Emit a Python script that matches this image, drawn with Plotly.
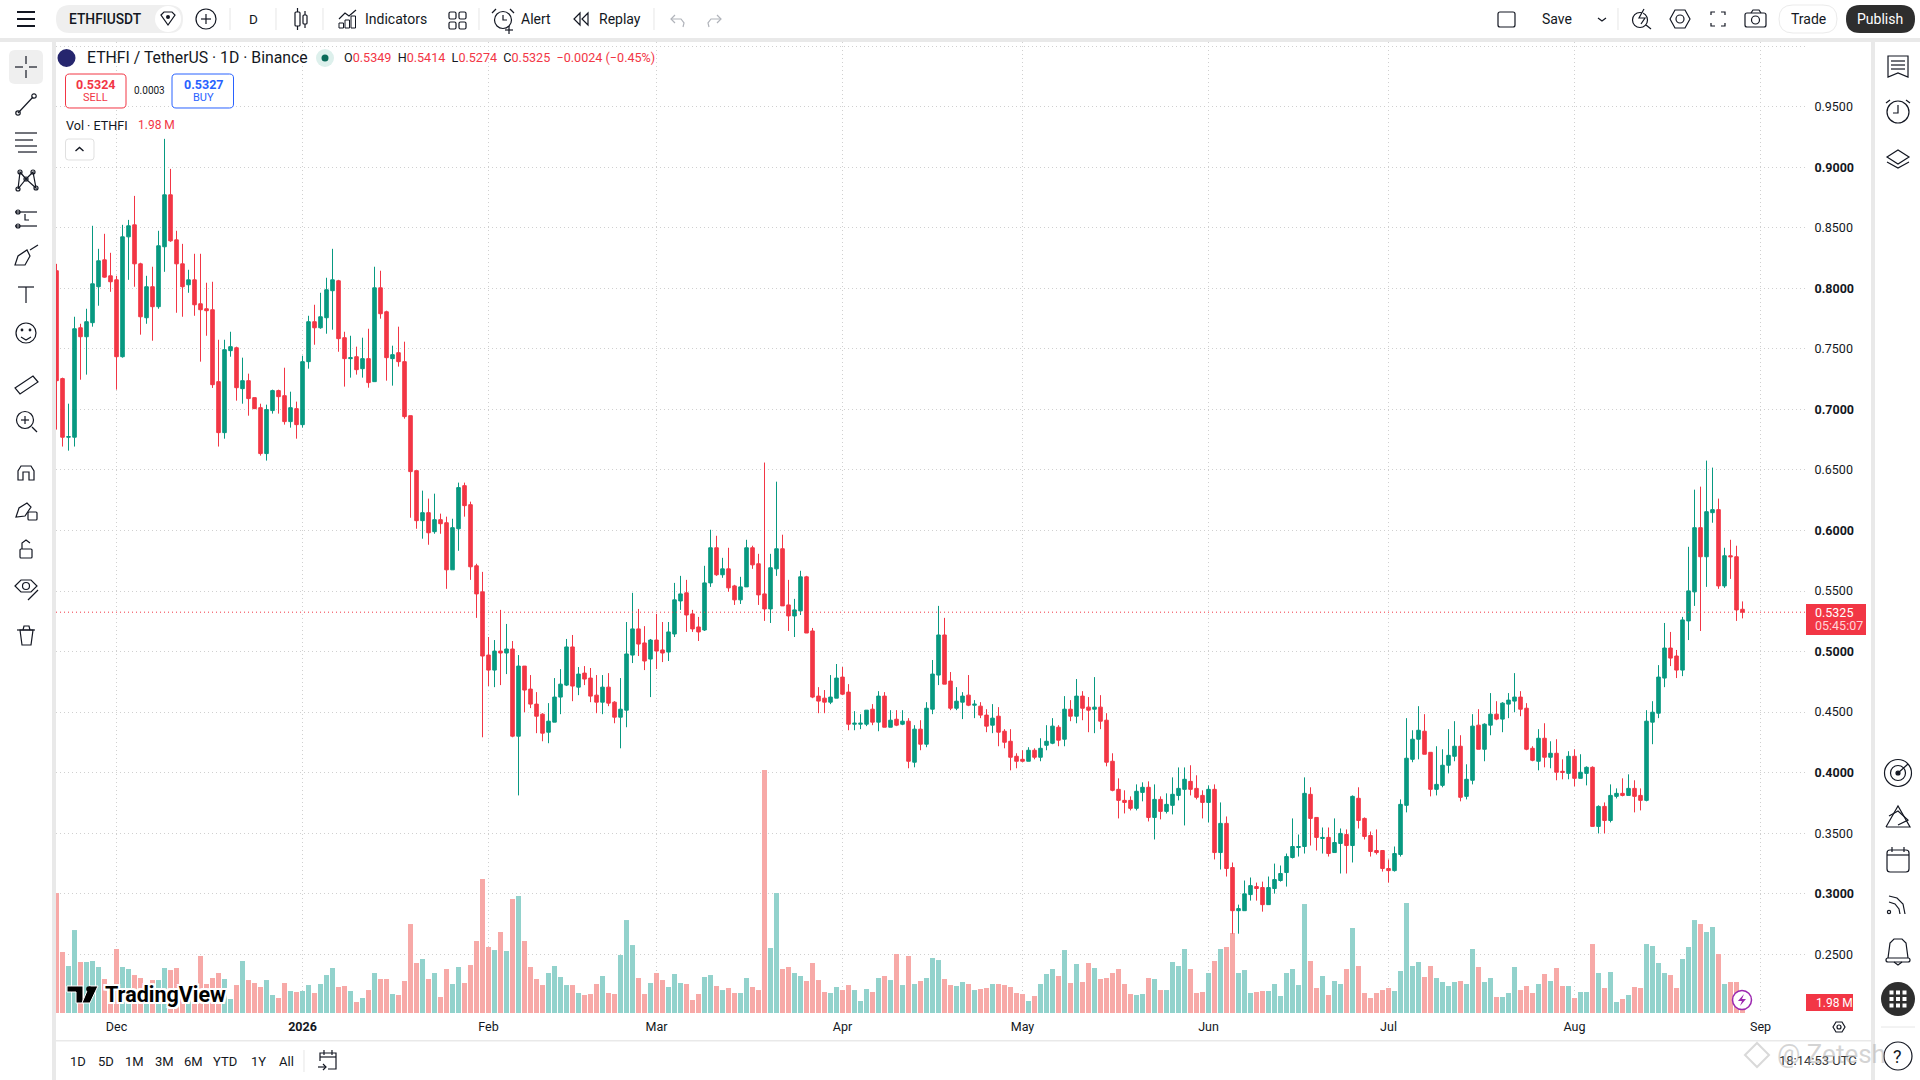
import pandas as pd
import plotly.graph_objects as go

# ETHFI/USDT daily candles
first_day = '2025-11-21'

opens = [
    .8145,.7254,.6770,.6770,.7674,.7600,.7716,.8013,.8235,.8103,
    .8070,.7435,.8425,.8524,.8202,.7757,.8013,.7848,.8343,.8772,
    .8400,.8202,.8029,.8070,.7872,.7831,.7823,.7229,.6808,.7485,
    .7509,.7171,.7237,.7097,.7014,.6635,.6990,.7155,.7113,.6899,
    .7006,.6874,.7394,.7724,.7674,.7757,.7980,.8062,.7592,.7419,
    .7435,.7336,.7419,.7229,.8004,.7806,.7419,.7468,.7394,.6948,
    .6494,.6081,.6147,.5990,.6089,.6064,.5675,.6014,.6370,.6213,
    .5708,.5493,.4971,.4847,.5004,.4988,.5021,.4301,.4880,.4690,
    .4566,.4483,.4334,.4417,.4624,.4723,.5038,.4706,.4822,.4781,
    .4640,.4582,.4706,.4582,.4458,.4516,.4971,.5187,.5071,.4938,
    .5095,.5013,.4996,.5145,.5418,.5485,.5311,.5203,.5178,.5567,
    .5857,.5634,.5683,.5542,.5427,.5534,.5857,.5725,.5476,.5352,
    .5683,.5849,.5385,.5294,.5336,.5617,.5170,.4632,.4615,.4582,
    .4615,.4789,.4665,.4400,.4400,.4400,.4524,.4417,.4632,.4375,
    .4441,.4400,.4425,.4086,.4359,.4235,.4524,.4806,.5137,.4756,
    .4532,.4582,.4640,.4557,.4549,.4475,.4392,.4466,.4342,.4259,
    .4135,.4110,.4094,.4185,.4127,.4226,.4243,.4375,.4276,.4524,
    .4466,.4632,.4541,.4524,.4541,.4433,.4094,.3862,.3771,.3771,
    .3705,.3837,.3879,.3630,.3779,.3680,.3730,.3812,.3862,.3928,
    .3870,.3812,.3754,.3862,.3340,.3581,.3216,.2860,.2860,.2993,
    .3059,.3051,.2910,.3043,.3109,.3175,.3299,.3382,.3390,.3821,
    .3630,.3456,.3465,.3340,.3415,.3489,.3398,.3788,.3622,.3481,
    .3357,.3357,.3208,.3191,.3324,.3730,.4110,.4276,.4342,.4168,
    .3862,.3895,.4061,.4135,.4218,.3804,.3937,.4392,.4193,.4392,
    .4483,.4442,.4566,.4591,.4624,.4532,.4201,.4094,.4284,.4127,
    .4160,.4011,.3994,.4135,.3953,.3994,.4044,.3556,.3721,.3605,
    .3804,.3829,.3812,.3870,.3812,.3771,.4417,.4491,.4781,.5029,
    .4963,.4847,.5253,.5493,.6023,.5783,.6147,.6172,.5542,.5791,.5783,.5349,
]

closes = [
    .7237,.6770,.6775,.7666,.7600,.7724,.8037,.8227,.8092,.8054,
    .7435,.8425,.8516,.8202,.7765,.8013,.7848,.8351,.8772,.8392,
    .8202,.8013,.8070,.7864,.7823,.7815,.7204,.6808,.7493,.7518,
    .7179,.7237,.7089,.7006,.6635,.6998,.7155,.7105,.6899,.7014,
    .6874,.7394,.7724,.7674,.7765,.7988,.8070,.7584,.7419,.7427,
    .7328,.7419,.7221,.8004,.7790,.7427,.7452,.7394,.6940,.6486,
    .6081,.6147,.5981,.6089,.6056,.5675,.6023,.6354,.6205,.5700,
    .5476,.4963,.4847,.5004,.4988,.5021,.4301,.4880,.4682,.4566,
    .4466,.4326,.4425,.4624,.4731,.5038,.4715,.4814,.4773,.4632,
    .4582,.4706,.4574,.4458,.4524,.4980,.5187,.5062,.4922,.5095,
    .5004,.4988,.5162,.5427,.5476,.5302,.5187,.5162,.5567,.5857,
    .5634,.5683,.5526,.5427,.5534,.5857,.5716,.5468,.5352,.5692,
    .5849,.5377,.5294,.5344,.5617,.5153,.4624,.4591,.4582,.4624,
    .4781,.4648,.4400,.4408,.4408,.4516,.4417,.4632,.4375,.4433,
    .4392,.4425,.4094,.4359,.4235,.4532,.4814,.5137,.4731,.4532,
    .4590,.4632,.4557,.4565,.4475,.4384,.4450,.4334,.4251,.4127,
    .4094,.4094,.4185,.4127,.4201,.4259,.4384,.4268,.4524,.4466,
    .4632,.4532,.4516,.4541,.4425,.4086,.3854,.3771,.3754,.3705,
    .3846,.3879,.3630,.3779,.3680,.3738,.3821,.3870,.3945,.3862,
    .3796,.3754,.3862,.3340,.3581,.3208,.2860,.2877,.2999,.3067,
    .3043,.2910,.3051,.3117,.3167,.3307,.3390,.3390,.3829,.3622,
    .3465,.3465,.3332,.3423,.3498,.3398,.3804,.3605,.3473,.3349,
    .3340,.3208,.3191,.3332,.3738,.4119,.4276,.4350,.4152,.3862,
    .3903,.4061,.4143,.4218,.3796,.3945,.4384,.4193,.4400,.4483,
    .4442,.4574,.4599,.4624,.4524,.4193,.4102,.4284,.4127,.4160,
    .4003,.4003,.4135,.3953,.4003,.4044,.3556,.3721,.3605,.3812,
    .3829,.3812,.3870,.3804,.3771,.4425,.4499,.4789,.5029,.4946,
    .4847,.5261,.5501,.6023,.5783,.6155,.6172,.5542,.5791,.5783,.5344,.5325,
]

highs = [
    .8202,.7262,.7047,.7765,.7707,.7831,.8516,.8326,.8450,.8293,
    .8103,.8524,.8565,.8763,.8211,.8103,.8178,.8475,.9234,.8986,
    .8475,.8367,.8153,.8285,.8285,.8046,.8054,.7575,.7575,.7641,
    .7518,.7427,.7295,.7097,.7047,.7039,.7163,.7163,.7344,.7146,
    .7064,.7443,.7773,.7864,.7963,.8087,.8326,.8070,.7641,.7608,
    .7518,.7592,.7666,.8178,.8145,.7815,.7526,.7683,.7559,.6948,
    .6494,.6329,.6263,.6304,.6139,.6114,.6097,.6395,.6395,.6238,
    .5725,.5658,.5120,.5095,.5344,.5228,.5087,.4971,.4880,.4806,
    .4665,.4491,.4574,.4781,.4855,.5104,.5137,.4872,.4880,.4864,
    .4806,.4806,.4822,.4590,.4781,.5244,.5485,.5352,.5210,.5104,
    .5311,.5244,.5244,.5567,.5625,.5592,.5344,.5286,.5708,.6006,
    .5956,.5774,.5857,.5551,.5617,.5923,.5874,.5807,.6561,.5807,
    .6403,.5965,.5592,.5435,.5667,.5625,.5195,.4706,.4682,.4806,
    .4897,.4872,.4731,.4508,.4483,.4516,.4566,.4673,.4665,.4516,
    .4516,.4516,.4450,.4392,.4433,.4582,.4930,.5377,.5278,.4831,
    .4706,.4665,.4806,.4599,.4582,.4524,.4566,.4541,.4359,.4359,
    .4160,.4185,.4210,.4201,.4284,.4392,.4450,.4392,.4632,.4599,
    .4773,.4673,.4624,.4789,.4640,.4491,.4160,.3953,.3854,.3804,
    .3903,.3920,.3928,.3903,.3804,.3829,.3961,.4043,.4043,.4061,
    .3978,.3854,.3895,.3903,.3754,.3638,.3258,.2910,.3109,.3134,
    .3092,.3100,.3142,.3249,.3233,.3332,.3622,.3489,.3961,.3879,
    .3630,.3547,.3547,.3622,.3539,.3531,.3812,.3879,.3630,.3514,
    .3531,.3357,.3283,.3390,.3779,.4450,.4350,.4549,.4483,.4168,
    .4218,.4193,.4359,.4425,.4309,.4069,.4483,.4524,.4408,.4657,
    .4590,.4582,.4657,.4822,.4673,.4574,.4218,.4359,.4408,.4259,
    .4276,.4110,.4177,.4193,.4152,.4052,.4052,.3730,.3754,.3903,
    .3870,.3953,.3986,.3937,.3870,.4516,.4590,.4888,.5236,.5162,
    .5013,.5286,.5865,.6337,.6362,.6577,.6519,.6263,.5857,.5923,.5874,.5414,
]

lows = [
    .6833,.6693,.6659,.6693,.7245,.7287,.7683,.7856,.8087,.7971,
    .7163,.7427,.8070,.8013,.7617,.7707,.7567,.7831,.8136,.8384,
    .7798,.7765,.7963,.7773,.7394,.7608,.7177,.6693,.6758,.7435,
    .7072,.7047,.6948,.7003,.6618,.6577,.6965,.6965,.6874,.6849,
    .6758,.6849,.7336,.7534,.7666,.7625,.7658,.7476,.7188,.7262,
    .7287,.7262,.7179,.7229,.7749,.7237,.7196,.7353,.6923,.6105,
    .6014,.5932,.5882,.5973,.5973,.5518,.5675,.5832,.6114,.5592,
    .5278,.4292,.4715,.4706,.4723,.4814,.4292,.3812,.4499,.4533,
    .4326,.4259,.4243,.4417,.4483,.4715,.4590,.4640,.4723,.4582,
    .4491,.4483,.4549,.4408,.4201,.4375,.4905,.4963,.4847,.4624,
    .4855,.4913,.4922,.5120,.5344,.5162,.5162,.5087,.5170,.5534,
    .5625,.5609,.5493,.5385,.5393,.5534,.5683,.5385,.5253,.5236,
    .5625,.5377,.5170,.5120,.5302,.5153,.4615,.4491,.4491,.4566,
    .4615,.4640,.4350,.4350,.4359,.4384,.4392,.4342,.4375,.4375,
    .4384,.4392,.4036,.4044,.4185,.4210,.4483,.4723,.4731,.4516,
    .4516,.4442,.4549,.4450,.4450,.4334,.4326,.4218,.4201,.4019,
    .4036,.4086,.4094,.4110,.4094,.4185,.4235,.4218,.4218,.4425,
    .4408,.4433,.4334,.4326,.4359,.4052,.3846,.3622,.3663,.3688,
    .3688,.3763,.3597,.3448,.3614,.3663,.3655,.3771,.3564,.3812,
    .3779,.3622,.3589,.3283,.3200,.3142,.2670,.2670,.2860,.2943,
    .2943,.2852,.2910,.3001,.3100,.3059,.3291,.3307,.3332,.3398,
    .3357,.3332,.3307,.3340,.3167,.3167,.3258,.3539,.3448,.3307,
    .3324,.3183,.3092,.3183,.3307,.3672,.4086,.4110,.4152,.3804,
    .3812,.3879,.3994,.4094,.3763,.3779,.3903,.4193,.4094,.4309,
    .4433,.4334,.4450,.4499,.4466,.4185,.4094,.4019,.4044,.4036,
    .3937,.3945,.3945,.3887,.3953,.3895,.3556,.3498,.3498,.3589,
    .3787,.3804,.3812,.3672,.3688,.3763,.4235,.4450,.4706,.4880,
    .4781,.4797,.5095,.5377,.5170,.5534,.6064,.5518,.5526,.5600,.5253,.5274,
]

# volume in millions of ETHFI
volumes = [
    23.76,12.08,9.31,16.43,10.10,10.10,10.30,9.11,6.73,4.75,
    12.67,9.11,8.71,7.52,6.93,5.74,6.53,6.53,8.91,8.51,
    8.91,5.35,2.57,2.38,11.29,5.74,6.93,7.92,6.73,2.77,
    5.54,10.30,6.53,5.94,5.15,6.53,3.56,2.97,5.94,4.36,
    4.16,4.36,5.54,3.96,5.74,7.52,8.91,5.15,5.35,4.36,
    2.18,2.97,4.55,7.92,6.73,6.73,3.76,3.56,6.34,17.62,
    9.90,10.69,6.73,7.92,3.17,8.71,5.74,9.11,5.94,9.50,
    14.26,26.53,13.07,12.47,16.04,12.28,22.57,23.17,14.26,9.11,
    6.73,5.54,7.92,9.31,7.13,5.54,5.54,3.96,3.56,3.76,
    5.74,7.33,3.96,3.76,11.48,18.41,13.46,6.93,3.76,5.94,
    7.92,6.53,5.15,7.72,5.94,5.74,2.57,3.76,7.13,7.52,
    5.35,4.55,4.95,3.96,3.96,6.93,5.15,4.55,48.11,12.87,
    23.76,8.71,9.11,7.92,7.33,6.34,9.90,6.53,4.16,3.96,
    5.15,4.55,5.54,4.55,2.38,4.75,4.16,6.93,7.33,6.53,
    11.68,5.54,11.29,5.74,6.34,6.93,10.89,10.49,6.73,5.54,
    5.35,6.14,5.74,4.55,4.75,4.95,5.74,5.74,5.54,5.15,
    3.96,3.76,2.38,3.37,5.74,7.72,8.71,7.33,12.47,5.94,
    9.70,6.14,9.90,8.91,6.73,6.93,7.92,8.71,5.74,3.76,
    3.56,3.76,6.93,6.73,4.55,4.55,10.10,9.31,12.67,8.71,
    3.96,4.16,7.92,10.30,12.67,13.07,15.84,7.92,8.51,3.96,
    4.16,4.36,4.36,5.74,3.37,7.92,8.71,5.54,21.58,10.30,
    4.95,7.33,3.56,6.34,5.74,8.71,16.83,9.31,3.96,2.97,
    3.96,4.55,4.95,4.36,8.32,21.78,9.31,10.10,7.13,9.31,
    6.93,6.14,5.35,6.14,6.34,5.74,12.67,9.11,6.14,6.93,
    3.17,3.17,3.96,9.11,4.55,5.35,3.96,5.74,7.72,6.34,
    8.91,5.35,5.35,2.97,4.16,4.16,13.66,7.92,4.95,8.12,
    2.18,2.77,3.56,5.15,4.95,13.66,13.27,9.90,7.92,7.52,
    4.95,10.69,13.07,18.41,17.62,16.04,17.03,11.68,5.74,6.14,6.14,1.98,
]

month_ticks = ['2025-12-01', '2026-01-01', '2026-02-01', '2026-03-01', '2026-04-01',
               '2026-05-01', '2026-06-01', '2026-07-01', '2026-08-01', '2026-09-01']
month_labels = ['Dec', '<b>2026</b>', 'Feb', 'Mar', 'Apr', 'May', 'Jun', 'Jul', 'Aug', 'Sep']
price_ticks = [0.25, 0.30, 0.35, 0.40, 0.45, 0.50, 0.55, 0.60, 0.65, 0.70, 0.75,
               0.80, 0.85, 0.90, 0.95, 1.00]
price_labels = ['0.2500', '<b>0.3000</b>', '0.3500', '<b>0.4000</b>', '0.4500', '<b>0.5000</b>',
                '0.5500', '<b>0.6000</b>', '0.6500', '<b>0.7000</b>', '0.7500', '<b>0.8000</b>',
                '0.8500', '<b>0.9000</b>', '0.9500', '']
range_buttons = ['1D', '5D', '1M', '3M', '6M', 'YTD', '1Y', 'All']
last_price = 0.5325

UP = '#089981'
DOWN = '#F23645'
UP_VOL = '#92D2CC'
DOWN_VOL = '#F7A9A7'
INK = '#131722'
FONT = 'Roboto'

# page geometry, plot frame in browser pixels
W, H = 1920, 1080
L, R, T, B = 56, 1806, 42, 1013

dates = pd.date_range(first_day, periods=len(opens), freq='D')
vol_colors = [UP_VOL if c >= o else DOWN_VOL for o, c in zip(opens, closes)]


def px(x):
    return (x - L) / (R - L)


def py(y):
    return (B - y) / (B - T)


shapes = []
notes = []


def rect(x0, y0, x1, y1, fill=None, line=None, lw=1):
    shapes.append(dict(type='rect', xref='paper', yref='paper', x0=px(x0), x1=px(x1), y0=py(y0), y1=py(y1),
                       fillcolor=fill or 'rgba(0,0,0,0)', line=dict(color=line or 'rgba(0,0,0,0)', width=lw if line else 0)))


def circle(cx, cy, r, fill=None, line=INK, lw=1.2):
    shapes.append(dict(type='circle', xref='paper', yref='paper', x0=px(cx - r), x1=px(cx + r), y0=py(cy - r), y1=py(cy + r),
                       fillcolor=fill or 'rgba(0,0,0,0)', line=dict(color=line or 'rgba(0,0,0,0)', width=lw if line else 0)))


def poly(points, close=False, fill=None, line=INK, lw=1.2):
    d = 'M' + ' L'.join(f'{px(x):.5f},{py(y):.5f}' for x, y in points) + (' Z' if close else '')
    shapes.append(dict(type='path', xref='paper', yref='paper', path=d, fillcolor=fill or 'rgba(0,0,0,0)',
                       line=dict(color=line or 'rgba(0,0,0,0)', width=lw if line else 0)))


def round_rect(x0, y0, x1, y1, r, fill=None, line=None, lw=1):
    def p(x, y):
        return f'{px(x):.5f},{py(y):.5f}'
    d = (f'M{p(x0 + r, y0)} L{p(x1 - r, y0)} Q{p(x1, y0)} {p(x1, y0 + r)} L{p(x1, y1 - r)} Q{p(x1, y1)} {p(x1 - r, y1)} '
         f'L{p(x0 + r, y1)} Q{p(x0, y1)} {p(x0, y1 - r)} L{p(x0, y0 + r)} Q{p(x0, y0)} {p(x0 + r, y0)} Z')
    shapes.append(dict(type='path', xref='paper', yref='paper', path=d, fillcolor=fill or 'rgba(0,0,0,0)',
                       line=dict(color=line or 'rgba(0,0,0,0)', width=lw if line else 0)))


def text(x, y, s, size=13, color=INK, anchor='left', **font):
    notes.append(dict(x=px(x), y=py(y), xref='paper', yref='paper', text=s, showarrow=False, xanchor=anchor,
                      yanchor='middle', borderpad=0, font=dict(family=FONT, size=size, color=color, **font)))


# grey frame around the panes
rect(0, 38, W, 42, fill='#E9E9E9')
rect(52, 42, 56, H, fill='#E9E9E9')
rect(1871, 42, 1875, H, fill='#E9E9E9')
rect(56, 1040, 1871, 1041.5, fill='#E9E9E9')

# top toolbar
for y in (12, 19, 26):
    poly([(17, y), (35, y)], lw=2)
round_rect(56, 5, 183, 33, 14, fill='#EFEFEF')
text(68, 19, 'ETHFIUSDT', size=13.8, weight=500)
circle(168, 19, 13, fill='#FFFFFF', line=None)
poly([(161, 15), (164, 12), (172, 12), (175, 15), (168, 25)], close=True)
circle(168, 17, 2, fill=INK, line=None)
circle(206, 19, 10)
poly([(201, 19), (211, 19)])
poly([(206, 14), (206, 24)])
for x in (230, 276, 323, 479, 654, 1618):
    poly([(x, 8), (x, 30)], line='#E6E6E6', lw=1)
text(253, 19, 'D', size=13.5, anchor='center')
round_rect(295, 12, 300, 26, 1, line=INK, lw=1.2)
poly([(297.5, 8), (297.5, 12)])
poly([(297.5, 26), (297.5, 30)])
round_rect(303, 15, 307, 24, 1, line=INK, lw=1.2)
poly([(305, 11), (305, 15)])
poly([(305, 24), (305, 28)])
text(364, 19, 'Indicators', size=14)
poly([(339, 19), (345, 13), (349, 16), (356, 10)])
for x, top in ((339, 23), (345, 20), (351, 16)):
    rect(x, top, x + 4.5, 28, line=INK)
for x in (449, 459):
    for y in (12, 22):
        round_rect(x, y, x + 7, y + 7, 1.5, line=INK, lw=1.2)
circle(503, 20, 8.5)
poly([(503, 15), (503, 20), (507, 20)])
poly([(496, 9), (492, 13)])
poly([(510, 9), (514, 13)])
poly([(505, 30), (513, 30)])
poly([(509, 26), (509, 34)])
text(520, 19, 'Alert', size=14)
poly([(580, 13), (574, 19), (580, 25)], close=True)
poly([(588, 13), (582, 19), (588, 25)], close=True)
text(598, 19, 'Replay', size=14)
poly([(671, 19), (681, 19), (684, 23), (683, 27)], line='#B0B3BA')
poly([(675, 15), (671, 19), (675, 23)], line='#B0B3BA')
poly([(721, 19), (711, 19), (708, 23), (709, 27)], line='#B0B3BA')
poly([(717, 15), (721, 19), (717, 23)], line='#B0B3BA')

round_rect(1498, 12, 1515, 27, 2, line=INK, lw=1.2)
text(1557, 19, 'Save', size=14, anchor='center')
poly([(1598, 18), (1602, 21), (1606, 18)])
circle(1640, 20, 7.5)
poly([(1646, 25), (1651, 29)])
poly([(1644, 9), (1639, 18), (1645, 18), (1641, 24)], fill='#FFFFFF')
poly([(1670, 19), (1675, 10), (1685, 10), (1690, 19), (1685, 28), (1675, 28)], close=True)
circle(1680, 19, 4)
for sx, sy in ((-1, -1), (1, -1), (-1, 1), (1, 1)):
    poly([(1718 + 7 * sx, 19 + 4 * sy), (1718 + 7 * sx, 19 + 7 * sy), (1718 + 3 * sx, 19 + 7 * sy)])
round_rect(1745, 13, 1766, 27, 2, line=INK, lw=1.2)
poly([(1751, 13), (1753, 10), (1759, 10), (1761, 13)])
circle(1755.5, 20, 4)
round_rect(1779, 5, 1837, 33, 14, line='#EBEBEB', lw=1)
text(1808, 19, 'Trade', size=14, anchor='center')
round_rect(1846, 5, 1915, 33, 14, fill='#2E2E2E')
text(1880.5, 19, 'Publish', size=14, color='#FFFFFF', anchor='center')

# left drawing tools
round_rect(9, 50, 43, 84, 6, fill='#EFEFEF')
poly([(26, 56), (26, 64)])
poly([(26, 70), (26, 78)])
poly([(15, 67), (23, 67)])
poly([(29, 67), (37, 67)])
poly([(18, 113), (33, 97)])
circle(18, 113, 2.2)
circle(34, 96, 2.2)
for y, x0, x1 in ((133, 15, 37), (140, 15, 33), (146, 15, 37), (152, 18, 37)):
    poly([(x0, y), (x1, y)])
poly([(18, 189), (20, 172), (26, 179), (33, 172), (36, 188), (26, 179), (18, 189)])
circle(20, 172, 2)
circle(33, 172, 2)
circle(18, 189, 2)
circle(36, 188, 2)
circle(26, 179, 2)
poly([(15, 212), (37, 212)])
poly([(15, 226), (37, 226)])
poly([(25, 214), (25, 220), (29, 220)])
circle(18, 212, 2)
circle(18, 226, 2)
poly([(15, 265), (18, 256), (27, 250), (30, 256), (25, 265)], close=True)
poly([(30, 250), (38, 245)])
poly([(18, 287), (34, 287)])
poly([(26, 287), (26, 303)])
circle(26, 333, 10)
circle(22, 330, 0.8, fill=INK)
circle(30, 330, 0.8, fill=INK)
poly([(21, 337), (26, 340), (31, 337)])
poly([(15, 388), (33, 376), (38, 382), (20, 394)], close=True)
circle(25, 420, 8.5)
poly([(32, 427), (37, 432)])
poly([(21, 420), (29, 420)])
poly([(25, 416), (25, 424)])
poly([(18, 480), (18, 471), (21, 466), (31, 466), (34, 471), (34, 480), (29, 480), (29, 472), (23, 472), (23, 480)], close=True)
poly([(16, 517), (19, 508), (27, 503), (31, 507), (25, 516)], close=True)
round_rect(28, 512, 37, 520, 1, line=INK, lw=1.2)
round_rect(20, 549, 32, 558, 1, line=INK, lw=1.2)
poly([(22, 549), (22, 543), (26, 540), (30, 543)])
poly([(15, 586), (21, 580), (31, 580), (37, 586), (31, 592), (21, 592)], close=True)
circle(26, 586, 3.5)
poly([(28, 600), (38, 590)])
poly([(17, 630), (35, 630)])
poly([(20, 630), (22, 645), (31, 645), (33, 630)], close=True)
poly([(23, 630), (24, 626), (29, 626), (30, 630)])

# right sidebar
poly([(1888, 56), (1908, 56), (1908, 77), (1898, 73), (1888, 77)], close=True)
for y in (61, 65, 69):
    poly([(1891, y), (1905, y)])
circle(1898, 112, 11)
poly([(1898, 105), (1898, 113), (1893, 113)])
poly([(1886, 103), (1890, 100)])
poly([(1910, 103), (1906, 100)])
poly([(1887, 157), (1898, 150), (1909, 157), (1898, 164)], close=True)
poly([(1887, 162), (1898, 168), (1909, 162)])
circle(1898, 773, 13.5)
circle(1898, 773, 7.5)
circle(1898, 773, 2, fill=INK)
poly([(1898, 773), (1908, 764)])
poly([(1886, 827), (1898, 806), (1910, 827), (1886, 827)])
poly([(1889, 816), (1898, 811), (1908, 820), (1898, 825)])
round_rect(1887, 850, 1909, 872, 3, line=INK, lw=1.2)
poly([(1887, 855), (1909, 855)])
poly([(1892, 847), (1892, 852)])
poly([(1904, 847), (1904, 852)])
poly([(1889, 896), (1897, 898), (1903, 904), (1905, 914)])
poly([(1889, 902), (1895, 904), (1899, 909), (1900, 914)])
circle(1889, 912, 1.6)
poly([(1888, 958), (1890, 943), (1894, 939), (1902, 939), (1906, 943), (1908, 958)])
round_rect(1886, 958, 1910, 962, 2, line=INK, lw=1.2)
poly([(1894, 962), (1898, 965), (1902, 962)])
circle(1898, 999, 17, fill='#2E2E2E', line=None)
for dx in (-6.5, 0, 6.5):
    for dy in (-6.5, 0, 6.5):
        rect(1898 + dx - 2, 999 + dy - 2, 1898 + dx + 2, 999 + dy + 2, fill='#FFFFFF')
poly([(1881, 1027), (1915, 1027)], line='#E6E6E6', lw=1)
circle(1898, 1056, 14)
text(1898, 1056, '?', size=18, anchor='center')

# chart legend
circle(66.5, 58, 9, fill='#26266E', line=None)
text(86, 58, 'ETHFI / TetherUS · 1D · Binance', size=15.8)
circle(325, 58, 9, fill='#DDF0EC', line=None)
circle(325, 58, 3.5, fill='#0B6B5A', line=None)
red = f'<span style="color:{DOWN}">'
text(343, 58, f'O{red}0.5349</span>  H{red}0.5414</span>  L{red}0.5274</span>  C{red}0.5325</span>  {red}−0.0024 (−0.45%)</span>', size=12.6)
round_rect(65.5, 74, 126, 108, 4, fill='#FFFFFF', line=DOWN)
text(95.7, 84, '<b>0.5324</b>', size=12.5, color=DOWN, anchor='center')
text(95.7, 98, 'SELL', size=11, color=DOWN, anchor='center')
text(149, 90, '0.0003', size=10, anchor='center')
round_rect(172, 74, 233.5, 108, 4, fill='#FFFFFF', line='#2962FF')
text(203, 84, '<b>0.5327</b>', size=12.5, color='#2962FF', anchor='center')
text(203, 98, 'BUY', size=11, color='#2962FF', anchor='center')
text(65, 125, 'Vol · ETHFI', size=12.6)
text(137, 125, '1.98 M', size=12, color=DOWN)
round_rect(65.5, 139, 94, 160, 3, fill='#FFFFFF', line='#E0E0E0')
poly([(75.5, 151), (79.5, 147.5), (83.5, 151)], lw=1.4)

# price and volume tags on the right
rect(1806, 604, 1866, 635, fill=DOWN)
text(1814, 612, f'{last_price:.4f}', size=12.5, color='#FFFFFF')
text(1814, 626, '05:45:07', size=12.5, color='#FFD5D8')
rect(1806, 994, 1853, 1011, fill=DOWN)
text(1815, 1003, '1.98 M', size=12, color='#FFFFFF')
poly([(1833, 1027), (1836, 1022), (1842, 1022), (1845, 1027), (1842, 1032), (1836, 1032)], close=True)
circle(1839, 1027, 2)

# lightning badge at the last bar
circle(1742, 1000, 9.5, fill='#FFFFFF', line='#9C27B0', lw=1.5)
poly([(1744, 994), (1738, 1001), (1742, 1001), (1740, 1006), (1746, 999), (1742, 999)], close=True, fill='#9C27B0', line=None)

# TradingView logo
poly([(67, 986), (83, 986), (83, 1003), (76, 1003), (76, 992), (67, 992)], close=True, fill='#000000', line='#FFFFFF', lw=1)
poly([(89, 986), (98, 986), (90, 1003), (82, 1003)], close=True, fill='#000000', line='#FFFFFF', lw=1)
circle(89, 989, 2.8, fill='#000000', line=None)
halo = ', '.join(f'{a}px {b}px 0 #fff' for a in (-2, 0, 2) for b in (-2, 0, 2))
text(104, 994, 'TradingView', size=21.5, color='#000000', weight=700, shadow=halo)

# bottom bar
for x, label in zip((78, 106, 134, 164, 193, 225, 258, 286), range_buttons):
    text(x, 1061, label, size=13, anchor='center')
poly([(304, 1050), (304, 1072)], line='#E6E6E6', lw=1)
poly([(320, 1061), (320, 1053), (336, 1053), (336, 1069), (328, 1069)])
poly([(320, 1057), (336, 1057)])
poly([(324, 1050), (324, 1055)])
poly([(332, 1050), (332, 1055)])
poly([(318, 1067), (326, 1067)])
poly([(323, 1064), (326, 1067), (323, 1070)])
text(1778, 1060, '18:14:53 UTC', size=13, color='#333333')

# faint watermark over the corner
poly([(1745, 1055), (1757, 1043), (1769, 1055), (1757, 1067)], close=True, line='rgba(170,170,170,0.45)', lw=2)
text(1776, 1054, '@ Zetesh', size=26, color='rgba(170,170,170,0.5)')

fig = go.Figure()

# volume goes on the bottom axis so that candles draw over it
fig.add_trace(go.Bar(
    x=dates,
    y=volumes,
    marker=dict(color=vol_colors, line=dict(width=0)),
    width=72000000,
    yaxis='y',
    hoverinfo='skip',
))

fig.add_trace(go.Candlestick(
    x=dates,
    open=opens,
    high=highs,
    low=lows,
    close=closes,
    yaxis='y2',
    whiskerwidth=0,
    increasing=dict(line=dict(color=UP, width=1), fillcolor=UP),
    decreasing=dict(line=dict(color=DOWN, width=1), fillcolor=DOWN),
))

# last price line
shapes.append(dict(type='line', xref='paper', yref='y2', x0=0, x1=1, y0=last_price, y1=last_price,
                   line=dict(color=DOWN, width=1, dash='1px,3px')))

day_ms = 86400000
dec1 = pd.Timestamp('2025-12-01')
x_left = dec1 + pd.Timedelta(milliseconds=day_ms * (L - 116.5) / 6)
x_right = dec1 + pd.Timedelta(milliseconds=day_ms * (R - 116.5) / 6)

fig.update_layout(
    width=W,
    height=H,
    autosize=False,
    margin=dict(l=L, r=W - R, t=T, b=H - B, pad=0),
    paper_bgcolor='#FFFFFF',
    plot_bgcolor='#FFFFFF',
    showlegend=False,
    boxgap=0.15,
    font=dict(family=FONT, size=12, color=INK),
    xaxis=dict(
        type='date',
        range=[x_left, x_right],
        rangeslider=dict(visible=False),
        tickvals=month_ticks,
        ticktext=month_labels,
        tickangle=0,
        tickfont=dict(family=FONT, size=12.5, color=INK),
        showgrid=True,
        gridcolor='#D0D0D0',
        griddash='1px,3px',
        gridwidth=1,
        showline=False,
        zeroline=False,
        ticks='outside',
        ticklen=2,
        tickcolor='rgba(0,0,0,0)',
    ),
    yaxis=dict(
        range=[0, 192.3],
        visible=False,
        showgrid=False,
        zeroline=False,
    ),
    yaxis2=dict(
        overlaying='y',
        side='right',
        range=[0.2015, 1.0034],
        tickvals=price_ticks,
        ticktext=price_labels,
        tickfont=dict(family=FONT, size=12.5, color=INK),
        showgrid=True,
        gridcolor='#D0D0D0',
        griddash='1px,3px',
        gridwidth=1,
        showline=False,
        zeroline=False,
        ticks='outside',
        ticklen=5,
        tickcolor='rgba(0,0,0,0)',
    ),
    shapes=shapes,
    annotations=notes,
)

assert len(opens) == len(closes) == len(highs) == len(lows) == len(volumes) == 282

fig.write_html(
    'out.html',
    config=dict(displayModeBar=False),
    post_script="document.body.style.margin='0';document.body.style.overflow='hidden';",
)
